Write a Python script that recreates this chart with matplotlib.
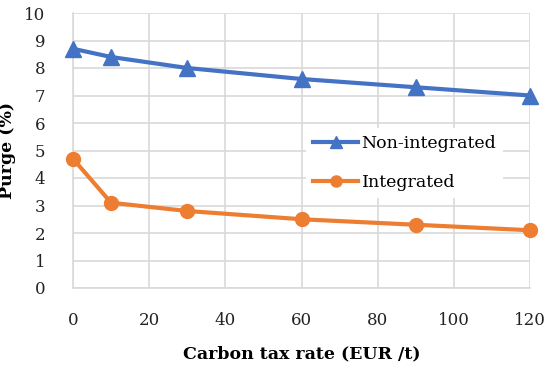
import matplotlib
matplotlib.use("Agg")
import matplotlib.pyplot as plt

tax_rate = [0, 10, 30, 60, 90, 120]
non_integrated = [8.7, 8.4, 8.0, 7.6, 7.3, 7.0]
integrated = [4.7, 3.1, 2.8, 2.5, 2.3, 2.1]

plt.rcParams['font.family'] = ['DejaVu Serif']

fig = plt.figure(figsize=(5.5, 3.65), dpi=100)
ax = fig.add_axes([73/550, 1-288/365, (530-73)/550, (288-13)/365])

blue = '#4472C4'
orange = '#ED7D31'
ax.plot(tax_rate, non_integrated, color=blue, lw=3, marker='^', ms=11,
        label='Non-integrated', clip_on=False, zorder=3)
ax.plot(tax_rate, integrated, color=orange, lw=3, marker='o', ms=10,
        label='Integrated', clip_on=False, zorder=3)

ax.set_xlim(0, 120)
ax.set_ylim(0, 10)
ax.set_xticks(range(0, 121, 20))
ax.set_yticks(range(0, 11, 1))
ax.grid(True, color='#D9D9D9', lw=1.2)
ax.set_axisbelow(True)
for s in ['top', 'right']:
    ax.spines[s].set_visible(False)
for s in ['left', 'bottom']:
    ax.spines[s].set_color('#D9D9D9')
    ax.spines[s].set_linewidth(1.2)
ax.tick_params(length=0, labelsize=12, colors='#222222')
ax.tick_params(axis='x', pad=17)
ax.tick_params(axis='y', pad=20)

ax.set_xlabel('Carbon tax rate (EUR /t)', fontsize=12.5, fontweight='bold', labelpad=12)
ax.set_ylabel('Purge (%)', fontsize=12.5, fontweight='bold', labelpad=6)

leg = ax.legend(loc='center left', bbox_to_anchor=(233/457, 1-150/275),
                borderaxespad=0, markerscale=0.8,
                frameon=True, facecolor='white', edgecolor='none', framealpha=1,
                fontsize=12.5, handlelength=2.6, handletextpad=0.2,
                labelspacing=1.25, borderpad=0.4)

fig.savefig('out.png', dpi=100)
